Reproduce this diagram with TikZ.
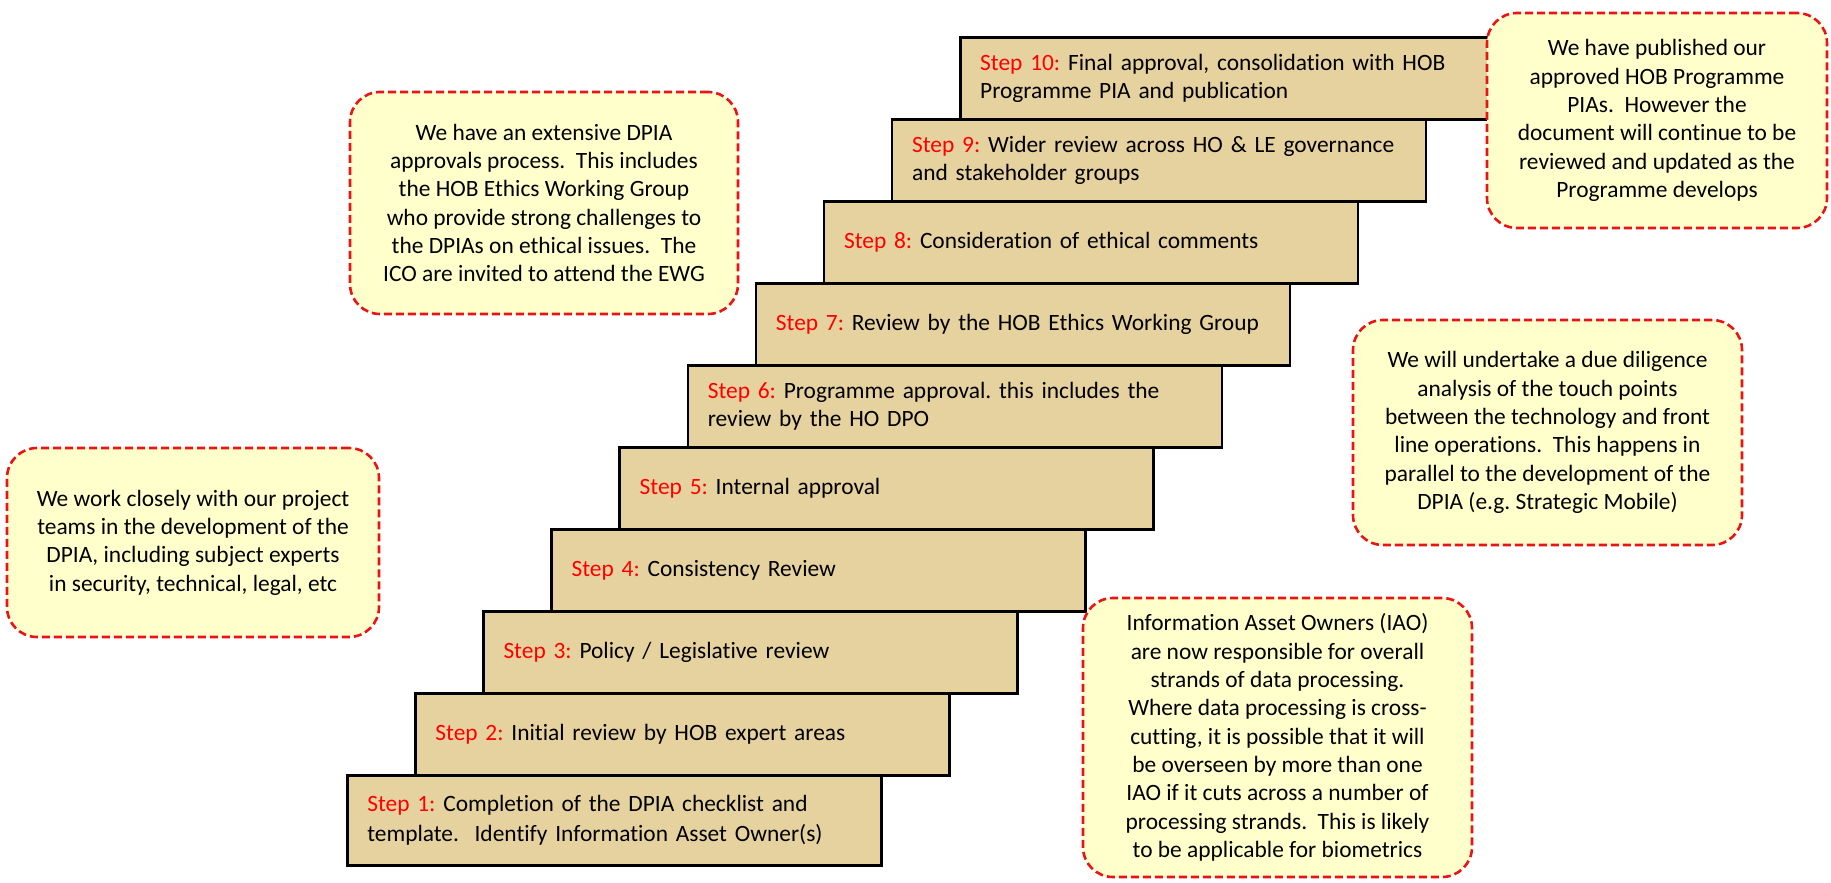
\documentclass[tikz,border=0pt]{standalone}
\usepackage{fontspec}
\setmainfont{Carlito}[Ligatures={NoCommon}]
\frenchspacing
\definecolor{parch}{RGB}{230,210,158}
\definecolor{callfill}{RGB}{255,255,204}
\definecolor{callred}{RGB}{235,20,20}
\definecolor{stepred}{RGB}{255,0,0}
\newcommand\steplabel[1]{\textcolor{stepred}{Step #1:}}
\begin{document}
\begin{tikzpicture}[x=1pt,y=-1pt,
  stepbox/.style={draw=black, line width=2.6pt, fill=parch, minimum width=534pt,
    minimum height=82pt, text width=494pt, inner xsep=20pt, inner ysep=0pt,
    align=left, font=\fontsize{23.4}{28.2}\selectfont\frenchspacing, anchor=north west},
  callout/.style={draw=callred, line width=2.6pt, dash pattern=on 8pt off 4pt,
    fill=callfill, rounded corners=30pt, align=center, inner sep=0pt,
    font=\fontsize{23.4}{28.3}\selectfont\frenchspacing}]
\useasboundingbox (0,0) rectangle (1831,883);

% staircase of steps
\node[stepbox, minimum height=90pt, font=\fontsize{23.4}{30}\selectfont\frenchspacing] (s1) at (346,774)
  {\steplabel{1} Completion of the DPIA checklist and\\template.\ \ Identify Information Asset Owner(s)};
\node[stepbox] (s2) at (414.1,692) {\steplabel{2} Initial review by HOB expert areas};
\node[stepbox] (s3) at (482.2,610) {\steplabel{3} Policy / Legislative review};
\node[stepbox] (s4) at (550.3,528) {\steplabel{4} Consistency Review};
\node[stepbox] (s5) at (618.4,446) {\steplabel{5} Internal approval};
\node[stepbox] (s6) at (686.5,364) {\steplabel{6} Programme approval. this includes the\\review by the HO DPO};
\node[stepbox] (s7) at (754.6,282) {\steplabel{7} Review by the HOB Ethics Working Group};
\node[stepbox] (s8) at (822.7,200) {\steplabel{8} Consideration of ethical comments};
\node[stepbox] (s9) at (890.8,118) {\steplabel{9} Wider review across HO \& LE governance\\and stakeholder groups};
\node[stepbox] (s10) at (958.9,36) {\steplabel{10} Final approval, consolidation with HOB\\Programme PIA and publication};

% callouts
\node[callout, minimum width=388pt, minimum height=222pt] (ethics) at (544,203)
  {We have an extensive DPIA\\approvals process.\ \ This includes\\the HOB Ethics Working Group\\who provide strong challenges to\\the DPIAs on ethical issues.\ \ The\\ICO are invited to attend the EWG};
\node[callout, minimum width=340pt, minimum height=215pt] (published) at (1657,120.5)
  {We have published our\\approved HOB Programme\\PIAs.\ \ However the\\document will continue to be\\reviewed and updated as the\\Programme develops};
\node[callout, minimum width=372pt, minimum height=189pt] (teams) at (193,542.5)
  {We work closely with our project\\teams in the development of the\\DPIA, including subject experts\\in security, technical, legal, etc};
\node[callout, minimum width=389pt, minimum height=225pt] (diligence) at (1547.5,432.5)
  {We will undertake a due diligence\\analysis of the touch points\\between the technology and front\\line operations.\ \ This happens in\\parallel to the development of the\\DPIA (e.g. Strategic Mobile)};
\node[callout, minimum width=389pt, minimum height=279pt] (iao) at (1277.5,737.5)
  {Information Asset Owners (IAO)\\are now responsible for overall\\strands of data processing.\\Where data processing is cross-\\cutting, it is possible that it will\\be overseen by more than one\\IAO if it cuts across a number of\\processing strands.\ \ This is likely\\to be applicable for biometrics};
\end{tikzpicture}
\end{document}
